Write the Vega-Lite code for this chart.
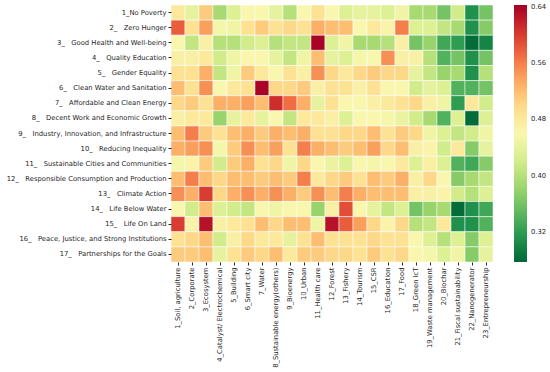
{
"$schema": "https://vega.github.io/schema/vega-lite/v6.json",
"width": 322, "height": 257,
"autosize": "none",
"padding": {"left": 171, "top": 5, "right": 57, "bottom": 110},
"background": "white",
"config": {"view": {"stroke": null}, "font": "DejaVu Sans"},
"data": {"values": [
{"r":1,"c":1,"v":0.48},{"r":1,"c":2,"v":0.44},{"r":1,"c":3,"v":0.51},{"r":1,"c":4,"v":0.39},{"r":1,"c":5,"v":0.43},{"r":1,"c":6,"v":0.46},{"r":1,"c":7,"v":0.46},{"r":1,"c":8,"v":0.44},{"r":1,"c":9,"v":0.40},{"r":1,"c":10,"v":0.46},{"r":1,"c":11,"v":0.49},{"r":1,"c":12,"v":0.46},{"r":1,"c":13,"v":0.43},{"r":1,"c":14,"v":0.44},{"r":1,"c":15,"v":0.44},{"r":1,"c":16,"v":0.43},{"r":1,"c":17,"v":0.45},{"r":1,"c":18,"v":0.39},{"r":1,"c":19,"v":0.39},{"r":1,"c":20,"v":0.36},{"r":1,"c":21,"v":0.42},{"r":1,"c":22,"v":0.31},{"r":1,"c":23,"v":0.36},
{"r":2,"c":1,"v":0.58},{"r":2,"c":2,"v":0.49},{"r":2,"c":3,"v":0.54},{"r":2,"c":4,"v":0.455},{"r":2,"c":5,"v":0.45},{"r":2,"c":6,"v":0.49},{"r":2,"c":7,"v":0.51},{"r":2,"c":8,"v":0.49},{"r":2,"c":9,"v":0.50},{"r":2,"c":10,"v":0.49},{"r":2,"c":11,"v":0.53},{"r":2,"c":12,"v":0.52},{"r":2,"c":13,"v":0.52},{"r":2,"c":14,"v":0.46},{"r":2,"c":15,"v":0.48},{"r":2,"c":16,"v":0.465},{"r":2,"c":17,"v":0.56},{"r":2,"c":18,"v":0.43},{"r":2,"c":19,"v":0.43},{"r":2,"c":20,"v":0.41},{"r":2,"c":21,"v":0.39},{"r":2,"c":22,"v":0.31},{"r":2,"c":23,"v":0.37},
{"r":3,"c":1,"v":0.46},{"r":3,"c":2,"v":0.41},{"r":3,"c":3,"v":0.47},{"r":3,"c":4,"v":0.40},{"r":3,"c":5,"v":0.40},{"r":3,"c":6,"v":0.42},{"r":3,"c":7,"v":0.43},{"r":3,"c":8,"v":0.40},{"r":3,"c":9,"v":0.41},{"r":3,"c":10,"v":0.41},{"r":3,"c":11,"v":0.64},{"r":3,"c":12,"v":0.43},{"r":3,"c":13,"v":0.45},{"r":3,"c":14,"v":0.39},{"r":3,"c":15,"v":0.39},{"r":3,"c":16,"v":0.40},{"r":3,"c":17,"v":0.47},{"r":3,"c":18,"v":0.36},{"r":3,"c":19,"v":0.38},{"r":3,"c":20,"v":0.33},{"r":3,"c":21,"v":0.32},{"r":3,"c":22,"v":0.28},{"r":3,"c":23,"v":0.30},
{"r":4,"c":1,"v":0.47},{"r":4,"c":2,"v":0.47},{"r":4,"c":3,"v":0.48},{"r":4,"c":4,"v":0.42},{"r":4,"c":5,"v":0.45},{"r":4,"c":6,"v":0.46},{"r":4,"c":7,"v":0.46},{"r":4,"c":8,"v":0.44},{"r":4,"c":9,"v":0.41},{"r":4,"c":10,"v":0.45},{"r":4,"c":11,"v":0.52},{"r":4,"c":12,"v":0.44},{"r":4,"c":13,"v":0.43},{"r":4,"c":14,"v":0.455},{"r":4,"c":15,"v":0.46},{"r":4,"c":16,"v":0.55},{"r":4,"c":17,"v":0.47},{"r":4,"c":18,"v":0.47},{"r":4,"c":19,"v":0.40},{"r":4,"c":20,"v":0.34},{"r":4,"c":21,"v":0.36},{"r":4,"c":22,"v":0.31},{"r":4,"c":23,"v":0.36},
{"r":5,"c":1,"v":0.49},{"r":5,"c":2,"v":0.49},{"r":5,"c":3,"v":0.53},{"r":5,"c":4,"v":0.41},{"r":5,"c":5,"v":0.45},{"r":5,"c":6,"v":0.51},{"r":5,"c":7,"v":0.48},{"r":5,"c":8,"v":0.46},{"r":5,"c":9,"v":0.49},{"r":5,"c":10,"v":0.47},{"r":5,"c":11,"v":0.55},{"r":5,"c":12,"v":0.50},{"r":5,"c":13,"v":0.48},{"r":5,"c":14,"v":0.50},{"r":5,"c":15,"v":0.51},{"r":5,"c":16,"v":0.50},{"r":5,"c":17,"v":0.50},{"r":5,"c":18,"v":0.44},{"r":5,"c":19,"v":0.41},{"r":5,"c":20,"v":0.38},{"r":5,"c":21,"v":0.39},{"r":5,"c":22,"v":0.31},{"r":5,"c":23,"v":0.40},
{"r":6,"c":1,"v":0.52},{"r":6,"c":2,"v":0.49},{"r":6,"c":3,"v":0.55},{"r":6,"c":4,"v":0.46},{"r":6,"c":5,"v":0.48},{"r":6,"c":6,"v":0.49},{"r":6,"c":7,"v":0.64},{"r":6,"c":8,"v":0.50},{"r":6,"c":9,"v":0.50},{"r":6,"c":10,"v":0.51},{"r":6,"c":11,"v":0.47},{"r":6,"c":12,"v":0.49},{"r":6,"c":13,"v":0.49},{"r":6,"c":14,"v":0.47},{"r":6,"c":15,"v":0.49},{"r":6,"c":16,"v":0.46},{"r":6,"c":17,"v":0.46},{"r":6,"c":18,"v":0.42},{"r":6,"c":19,"v":0.44},{"r":6,"c":20,"v":0.43},{"r":6,"c":21,"v":0.34},{"r":6,"c":22,"v":0.34},{"r":6,"c":23,"v":0.36},
{"r":7,"c":1,"v":0.50},{"r":7,"c":2,"v":0.51},{"r":7,"c":3,"v":0.49},{"r":7,"c":4,"v":0.53},{"r":7,"c":5,"v":0.53},{"r":7,"c":6,"v":0.54},{"r":7,"c":7,"v":0.52},{"r":7,"c":8,"v":0.61},{"r":7,"c":9,"v":0.57},{"r":7,"c":10,"v":0.53},{"r":7,"c":11,"v":0.44},{"r":7,"c":12,"v":0.49},{"r":7,"c":13,"v":0.46},{"r":7,"c":14,"v":0.46},{"r":7,"c":15,"v":0.47},{"r":7,"c":16,"v":0.48},{"r":7,"c":17,"v":0.49},{"r":7,"c":18,"v":0.50},{"r":7,"c":19,"v":0.47},{"r":7,"c":20,"v":0.45},{"r":7,"c":21,"v":0.32},{"r":7,"c":22,"v":0.48},{"r":7,"c":23,"v":0.42},
{"r":8,"c":1,"v":0.47},{"r":8,"c":2,"v":0.48},{"r":8,"c":3,"v":0.48},{"r":8,"c":4,"v":0.38},{"r":8,"c":5,"v":0.44},{"r":8,"c":6,"v":0.48},{"r":8,"c":7,"v":0.44},{"r":8,"c":8,"v":0.46},{"r":8,"c":9,"v":0.41},{"r":8,"c":10,"v":0.48},{"r":8,"c":11,"v":0.48},{"r":8,"c":12,"v":0.47},{"r":8,"c":13,"v":0.43},{"r":8,"c":14,"v":0.46},{"r":8,"c":15,"v":0.46},{"r":8,"c":16,"v":0.455},{"r":8,"c":17,"v":0.445},{"r":8,"c":18,"v":0.42},{"r":8,"c":19,"v":0.39},{"r":8,"c":20,"v":0.34},{"r":8,"c":21,"v":0.43},{"r":8,"c":22,"v":0.28},{"r":8,"c":23,"v":0.43},
{"r":9,"c":1,"v":0.52},{"r":9,"c":2,"v":0.56},{"r":9,"c":3,"v":0.51},{"r":9,"c":4,"v":0.49},{"r":9,"c":5,"v":0.52},{"r":9,"c":6,"v":0.53},{"r":9,"c":7,"v":0.51},{"r":9,"c":8,"v":0.53},{"r":9,"c":9,"v":0.52},{"r":9,"c":10,"v":0.53},{"r":9,"c":11,"v":0.49},{"r":9,"c":12,"v":0.49},{"r":9,"c":13,"v":0.50},{"r":9,"c":14,"v":0.50},{"r":9,"c":15,"v":0.52},{"r":9,"c":16,"v":0.49},{"r":9,"c":17,"v":0.51},{"r":9,"c":18,"v":0.50},{"r":9,"c":19,"v":0.45},{"r":9,"c":20,"v":0.43},{"r":9,"c":21,"v":0.41},{"r":9,"c":22,"v":0.42},{"r":9,"c":23,"v":0.45},
{"r":10,"c":1,"v":0.53},{"r":10,"c":2,"v":0.54},{"r":10,"c":3,"v":0.55},{"r":10,"c":4,"v":0.455},{"r":10,"c":5,"v":0.51},{"r":10,"c":6,"v":0.55},{"r":10,"c":7,"v":0.52},{"r":10,"c":8,"v":0.54},{"r":10,"c":9,"v":0.49},{"r":10,"c":10,"v":0.56},{"r":10,"c":11,"v":0.53},{"r":10,"c":12,"v":0.52},{"r":10,"c":13,"v":0.51},{"r":10,"c":14,"v":0.52},{"r":10,"c":15,"v":0.54},{"r":10,"c":16,"v":0.50},{"r":10,"c":17,"v":0.52},{"r":10,"c":18,"v":0.47},{"r":10,"c":19,"v":0.465},{"r":10,"c":20,"v":0.42},{"r":10,"c":21,"v":0.48},{"r":10,"c":22,"v":0.37},{"r":10,"c":23,"v":0.44},
{"r":11,"c":1,"v":0.455},{"r":11,"c":2,"v":0.465},{"r":11,"c":3,"v":0.51},{"r":11,"c":4,"v":0.42},{"r":11,"c":5,"v":0.51},{"r":11,"c":6,"v":0.53},{"r":11,"c":7,"v":0.49},{"r":11,"c":8,"v":0.50},{"r":11,"c":9,"v":0.45},{"r":11,"c":10,"v":0.50},{"r":11,"c":11,"v":0.46},{"r":11,"c":12,"v":0.445},{"r":11,"c":13,"v":0.43},{"r":11,"c":14,"v":0.46},{"r":11,"c":15,"v":0.455},{"r":11,"c":16,"v":0.46},{"r":11,"c":17,"v":0.48},{"r":11,"c":18,"v":0.43},{"r":11,"c":19,"v":0.47},{"r":11,"c":20,"v":0.43},{"r":11,"c":21,"v":0.34},{"r":11,"c":22,"v":0.33},{"r":11,"c":23,"v":0.37},
{"r":12,"c":1,"v":0.52},{"r":12,"c":2,"v":0.56},{"r":12,"c":3,"v":0.52},{"r":12,"c":4,"v":0.50},{"r":12,"c":5,"v":0.52},{"r":12,"c":6,"v":0.52},{"r":12,"c":7,"v":0.51},{"r":12,"c":8,"v":0.52},{"r":12,"c":9,"v":0.51},{"r":12,"c":10,"v":0.56},{"r":12,"c":11,"v":0.48},{"r":12,"c":12,"v":0.50},{"r":12,"c":13,"v":0.51},{"r":12,"c":14,"v":0.49},{"r":12,"c":15,"v":0.52},{"r":12,"c":16,"v":0.51},{"r":12,"c":17,"v":0.53},{"r":12,"c":18,"v":0.47},{"r":12,"c":19,"v":0.50},{"r":12,"c":20,"v":0.46},{"r":12,"c":21,"v":0.37},{"r":12,"c":22,"v":0.39},{"r":12,"c":23,"v":0.41},
{"r":13,"c":1,"v":0.55},{"r":13,"c":2,"v":0.53},{"r":13,"c":3,"v":0.60},{"r":13,"c":4,"v":0.50},{"r":13,"c":5,"v":0.53},{"r":13,"c":6,"v":0.55},{"r":13,"c":7,"v":0.53},{"r":13,"c":8,"v":0.55},{"r":13,"c":9,"v":0.53},{"r":13,"c":10,"v":0.51},{"r":13,"c":11,"v":0.55},{"r":13,"c":12,"v":0.52},{"r":13,"c":13,"v":0.56},{"r":13,"c":14,"v":0.53},{"r":13,"c":15,"v":0.52},{"r":13,"c":16,"v":0.52},{"r":13,"c":17,"v":0.52},{"r":13,"c":18,"v":0.47},{"r":13,"c":19,"v":0.47},{"r":13,"c":20,"v":0.465},{"r":13,"c":21,"v":0.42},{"r":13,"c":22,"v":0.40},{"r":13,"c":23,"v":0.43},
{"r":14,"c":1,"v":0.46},{"r":14,"c":2,"v":0.42},{"r":14,"c":3,"v":0.52},{"r":14,"c":4,"v":0.43},{"r":14,"c":5,"v":0.42},{"r":14,"c":6,"v":0.41},{"r":14,"c":7,"v":0.46},{"r":14,"c":8,"v":0.45},{"r":14,"c":9,"v":0.46},{"r":14,"c":10,"v":0.46},{"r":14,"c":11,"v":0.38},{"r":14,"c":12,"v":0.47},{"r":14,"c":13,"v":0.59},{"r":14,"c":14,"v":0.46},{"r":14,"c":15,"v":0.44},{"r":14,"c":16,"v":0.41},{"r":14,"c":17,"v":0.43},{"r":14,"c":18,"v":0.36},{"r":14,"c":19,"v":0.38},{"r":14,"c":20,"v":0.39},{"r":14,"c":21,"v":0.28},{"r":14,"c":22,"v":0.31},{"r":14,"c":23,"v":0.33},
{"r":15,"c":1,"v":0.60},{"r":15,"c":2,"v":0.465},{"r":15,"c":3,"v":0.63},{"r":15,"c":4,"v":0.47},{"r":15,"c":5,"v":0.48},{"r":15,"c":6,"v":0.49},{"r":15,"c":7,"v":0.52},{"r":15,"c":8,"v":0.50},{"r":15,"c":9,"v":0.52},{"r":15,"c":10,"v":0.52},{"r":15,"c":11,"v":0.45},{"r":15,"c":12,"v":0.63},{"r":15,"c":13,"v":0.58},{"r":15,"c":14,"v":0.54},{"r":15,"c":15,"v":0.50},{"r":15,"c":16,"v":0.465},{"r":15,"c":17,"v":0.50},{"r":15,"c":18,"v":0.40},{"r":15,"c":19,"v":0.41},{"r":15,"c":20,"v":0.48},{"r":15,"c":21,"v":0.31},{"r":15,"c":22,"v":0.31},{"r":15,"c":23,"v":0.34},
{"r":16,"c":1,"v":0.49},{"r":16,"c":2,"v":0.50},{"r":16,"c":3,"v":0.52},{"r":16,"c":4,"v":0.42},{"r":16,"c":5,"v":0.47},{"r":16,"c":6,"v":0.50},{"r":16,"c":7,"v":0.48},{"r":16,"c":8,"v":0.48},{"r":16,"c":9,"v":0.44},{"r":16,"c":10,"v":0.49},{"r":16,"c":11,"v":0.52},{"r":16,"c":12,"v":0.49},{"r":16,"c":13,"v":0.49},{"r":16,"c":14,"v":0.49},{"r":16,"c":15,"v":0.50},{"r":16,"c":16,"v":0.49},{"r":16,"c":17,"v":0.49},{"r":16,"c":18,"v":0.46},{"r":16,"c":19,"v":0.43},{"r":16,"c":20,"v":0.40},{"r":16,"c":21,"v":0.43},{"r":16,"c":22,"v":0.37},{"r":16,"c":23,"v":0.43},
{"r":17,"c":1,"v":0.51},{"r":17,"c":2,"v":0.51},{"r":17,"c":3,"v":0.52},{"r":17,"c":4,"v":0.44},{"r":17,"c":5,"v":0.49},{"r":17,"c":6,"v":0.51},{"r":17,"c":7,"v":0.50},{"r":17,"c":8,"v":0.52},{"r":17,"c":9,"v":0.48},{"r":17,"c":10,"v":0.51},{"r":17,"c":11,"v":0.51},{"r":17,"c":12,"v":0.50},{"r":17,"c":13,"v":0.50},{"r":17,"c":14,"v":0.49},{"r":17,"c":15,"v":0.51},{"r":17,"c":16,"v":0.49},{"r":17,"c":17,"v":0.50},{"r":17,"c":18,"v":0.46},{"r":17,"c":19,"v":0.455},{"r":17,"c":20,"v":0.43},{"r":17,"c":21,"v":0.45},{"r":17,"c":22,"v":0.37},{"r":17,"c":23,"v":0.44}
]},
"mark": {"type": "rect", "stroke": "white", "strokeWidth": 0.5},
"encoding": {
"x": {"field": "c", "type": "ordinal", "scale": {"paddingInner": 0, "paddingOuter": 0},
 "axis": {"title": null, "labelAngle": -90, "labelFontSize": 6.8, "labelColor": "#262626", "domain": false, "tickSize": 3, "tickColor": "#262626", "labelPadding": 2,
 "labelExpr": "['1_Soil, agriculture','2_Corporate','3_Ecosystem','4_Catalyst/ Electrochemical','5_Building','6_Smart city','7_Water','8_Sustainable energy(others)','9_Bioenergy','10_Urban','11_Health care','12_Forest','13_Fishery','14_Tourism','15_CSR','16_Education','17_Food','18_Green IcT','19_Waste management','20_Biochar','21_Fiscal sustainability','22_Nanogenerator','23_Entrepreneurship'][datum.value-1]"}},
"y": {"field": "r", "type": "ordinal", "scale": {"paddingInner": 0, "paddingOuter": 0},
 "axis": {"title": null, "labelFontSize": 6.8, "labelColor": "#262626", "domain": false, "tickSize": 3, "tickColor": "#262626", "labelPadding": 2,
 "labelExpr": "['1_No Poverty','2_\u00a0\u00a0\u00a0Zero Hunger','3_\u00a0\u00a0\u00a0Good Health and Well-being','4_\u00a0\u00a0\u00a0Quality Education','5_\u00a0\u00a0\u00a0Gender Equality','6_\u00a0\u00a0\u00a0Clean Water and Sanitation','7_\u00a0\u00a0\u00a0Affordable and Clean Energy','8_\u00a0\u00a0\u00a0Decent Work and Economic Growth','9_\u00a0\u00a0\u00a0Industry, Innovation, and Infrastructure','10_\u00a0\u00a0\u00a0Reducing Inequality','11_\u00a0\u00a0\u00a0Sustainable Cities and Communities','12_\u00a0\u00a0\u00a0Responsible Consumption and Production','13_\u00a0\u00a0\u00a0Climate Action','14_\u00a0\u00a0\u00a0Life Below Water','15_\u00a0\u00a0\u00a0Life On Land','16_\u00a0\u00a0\u00a0Peace, Justice, and Strong Institutions','17_\u00a0\u00a0\u00a0Partnerships for the Goals'][datum.value-1]"}},
"color": {"field": "v", "type": "quantitative",
 "scale": {"scheme": "redyellowgreen", "reverse": true, "domain": [0.277, 0.643]},
 "legend": {"title": null, "orient": "right", "offset": 21, "gradientLength": 257, "gradientThickness": 13, "values": [0.32, 0.40, 0.48, 0.56, 0.64], "format": ".2f", "labelFontSize": 6.8, "labelColor": "#262626", "labelOffset": 4}}
}
}
